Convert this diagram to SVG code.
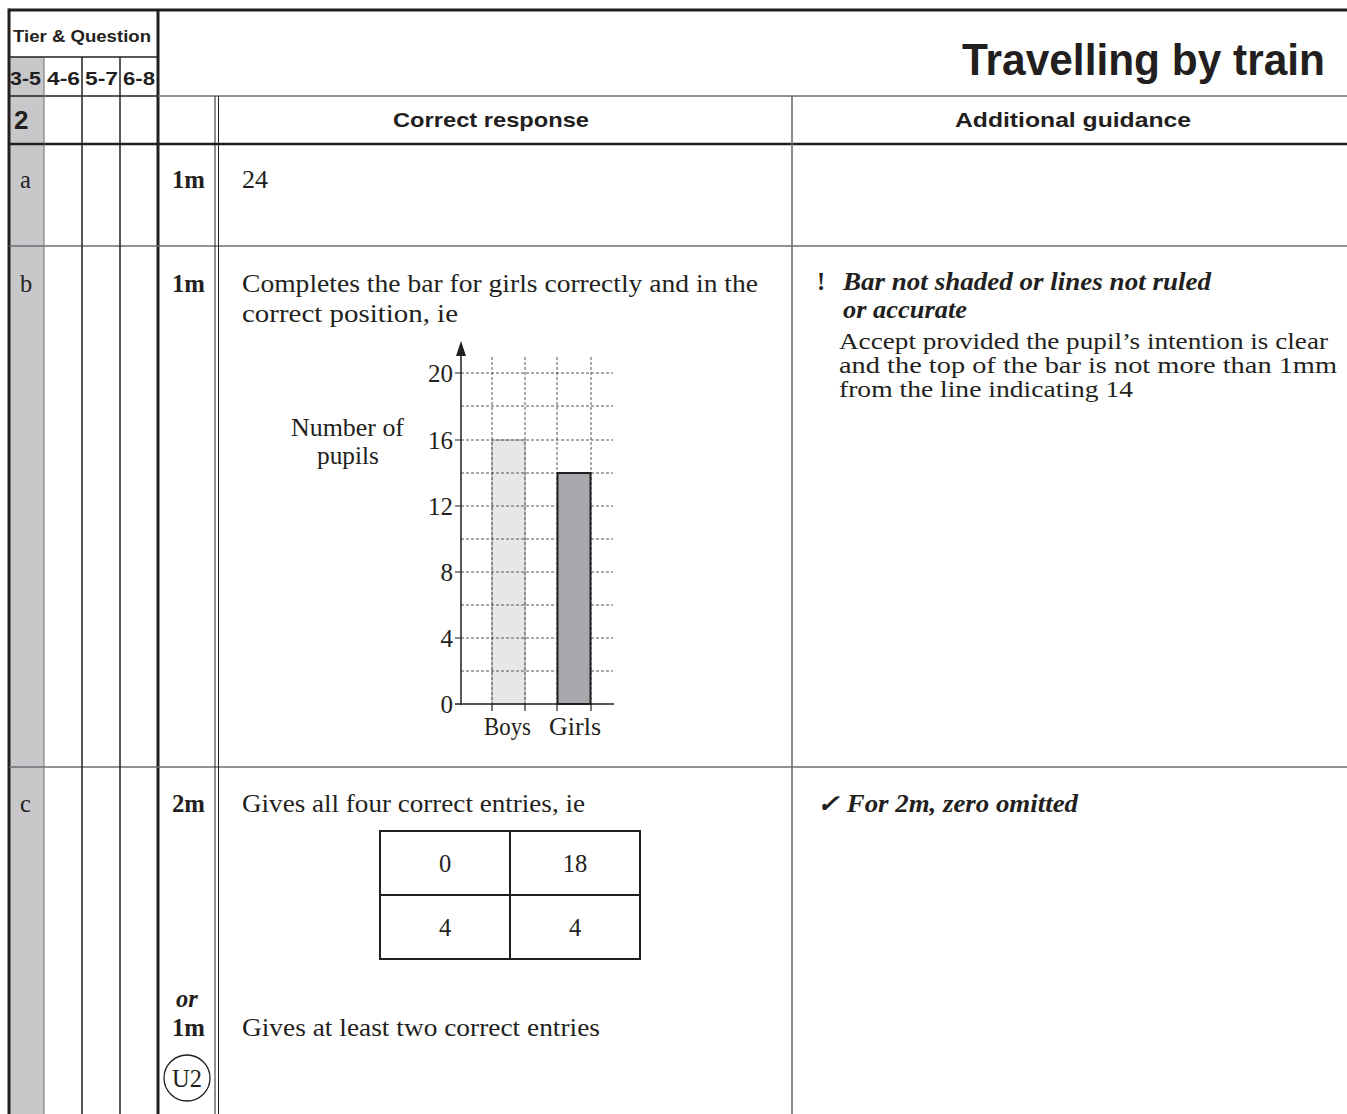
<svg xmlns="http://www.w3.org/2000/svg" width="1347" height="1114" viewBox="0 0 1347 1114">
<style>
.sans{font-family:"Liberation Sans",Arial,sans-serif;font-weight:bold;fill:#231f20}
.serif{font-family:"Liberation Serif","Times New Roman",serif;fill:#231f20;font-size:24.5px}
.sm{font-size:22.5px}
.b{font-weight:bold}
.i{font-style:italic}
.thick{stroke:#231f20;stroke-width:3;fill:none}
.dark{stroke:#231f20;stroke-width:1.5;fill:none}
.gray{stroke:#6d6e70;stroke-width:1.6;fill:none}
.grid{stroke:#555;stroke-width:1;stroke-dasharray:3 2;fill:none}
</style>
<rect width="1347" height="1114" fill="#fff"/>
<g id="frame">
<rect x="9" y="57" width="35" height="1057" fill="#c8c8ca"/>
<line class="thick" x1="9" y1="10" x2="1347" y2="10"/>
<line class="thick" x1="9" y1="8.5" x2="9" y2="1114"/>
<line class="thick" x1="158" y1="10" x2="158" y2="1114"/>
<line class="dark" x1="9" y1="57" x2="158" y2="57"/>
<line class="dark" x1="9" y1="96" x2="158" y2="96"/>
<line class="gray" x1="158" y1="96" x2="1347" y2="96"/>
<line class="thick" x1="9" y1="144" x2="1347" y2="144" style="stroke-width:2.5"/>
<line class="gray" x1="9" y1="246" x2="1347" y2="246"/>
<line class="gray" x1="9" y1="767" x2="1347" y2="767"/>
<line class="gray" x1="44" y1="57" x2="44" y2="1114" style="stroke-width:1"/>
<line class="dark" x1="82" y1="57" x2="82" y2="1114"/>
<line class="dark" x1="120" y1="57" x2="120" y2="1114"/>
<line class="dark" x1="215" y1="96" x2="215" y2="1114" style="stroke-width:1"/>
<line class="dark" x1="218.5" y1="96" x2="218.5" y2="1114" style="stroke-width:1"/>
<line class="gray" x1="792" y1="96" x2="792" y2="1114"/>
</g>
<g id="header">
<text class="sans" x="13" y="42" font-size="17" textLength="138" lengthAdjust="spacingAndGlyphs">Tier &amp; Question</text>
<text class="sans" x="10" y="85" font-size="18" textLength="31" lengthAdjust="spacingAndGlyphs">3-5</text>
<text class="sans" x="47" y="85" font-size="18" textLength="33" lengthAdjust="spacingAndGlyphs">4-6</text>
<text class="sans" x="85" y="85" font-size="18" textLength="33" lengthAdjust="spacingAndGlyphs">5-7</text>
<text class="sans" x="123" y="85" font-size="18" textLength="32" lengthAdjust="spacingAndGlyphs">6-8</text>
<text class="sans" x="962" y="75" font-size="45" textLength="363" lengthAdjust="spacingAndGlyphs">Travelling by train</text>
<text class="sans" x="14" y="129" font-size="26">2</text>
<text class="sans" x="393" y="127" font-size="21" textLength="196" lengthAdjust="spacingAndGlyphs">Correct response</text>
<text class="sans" x="955" y="127" font-size="21" textLength="236" lengthAdjust="spacingAndGlyphs">Additional guidance</text>
</g>
<g id="row-a">
<text class="serif" x="20" y="188">a</text>
<text class="serif b" x="172" y="188" textLength="33" lengthAdjust="spacingAndGlyphs">1m</text>
<text class="serif" x="242" y="188" textLength="26" lengthAdjust="spacingAndGlyphs">24</text>
</g>
<g id="row-b">
<text class="serif" x="20" y="292">b</text>
<text class="serif b" x="172" y="292" textLength="33" lengthAdjust="spacingAndGlyphs">1m</text>
<text class="serif" x="242" y="292" textLength="516" lengthAdjust="spacingAndGlyphs">Completes the bar for girls correctly and in the</text>
<text class="serif" x="242" y="322" textLength="216" lengthAdjust="spacingAndGlyphs">correct position, ie</text>
<text class="serif b" x="817" y="290">!</text>
<text class="serif b i" x="843" y="290" textLength="368" lengthAdjust="spacingAndGlyphs">Bar not shaded or lines not ruled</text>
<text class="serif b i" x="843" y="318" textLength="124" lengthAdjust="spacingAndGlyphs">or accurate</text>
<text class="serif sm" x="839" y="349" textLength="489" lengthAdjust="spacingAndGlyphs">Accept provided the pupil’s intention is clear</text>
<text class="serif sm" x="839" y="373" textLength="498" lengthAdjust="spacingAndGlyphs">and the top of the bar is not more than 1mm</text>
<text class="serif sm" x="839" y="397" textLength="294" lengthAdjust="spacingAndGlyphs">from the line indicating 14</text>
</g>
<g id="chart">
<rect x="492" y="440" width="33" height="264" fill="#e6e7e8" stroke="#9a9a9a" stroke-width="1"/>
<g class="grid">
<path d="M461 373H613M461 406H613M461 440H613M461 473H613M461 506H613M461 539H613M461 572H613M461 605H613M461 638H613M461 671H613"/>
<path d="M492 357V704M525 357V704M557 357V704M591 357V704"/>
</g>
<rect x="557.5" y="473" width="33" height="231" fill="#a7a9ac" stroke="#231f20" stroke-width="2"/>
<line class="dark" x1="461" y1="352" x2="461" y2="705"/>
<polygon points="461,341 456,356 466,356" fill="#231f20"/>
<line class="dark" x1="455" y1="704" x2="614" y2="704"/>
<path class="dark" d="M455 373H461M455 440H461M455 506H461M455 572H461M455 638H461M492 704V711M525 704V711M557 704V711M591 704V711" style="stroke-width:1.2"/>
<g class="serif" style="font-size:25px" text-anchor="end">
<text x="453" y="382">20</text>
<text x="453" y="449">16</text>
<text x="453" y="515">12</text>
<text x="453" y="581">8</text>
<text x="453" y="647">4</text>
<text x="453" y="713">0</text>
</g>
<text class="serif" x="291" y="436" textLength="113" lengthAdjust="spacingAndGlyphs">Number of</text>
<text class="serif" x="317" y="464" textLength="62" lengthAdjust="spacingAndGlyphs">pupils</text>
<text class="serif" x="484" y="735" textLength="47" lengthAdjust="spacingAndGlyphs">Boys</text>
<text class="serif" x="549" y="735" textLength="52" lengthAdjust="spacingAndGlyphs">Girls</text>
</g>
<g id="row-c">
<text class="serif" x="20" y="812">c</text>
<text class="serif b" x="172" y="812" textLength="33" lengthAdjust="spacingAndGlyphs">2m</text>
<text class="serif" x="242" y="812" textLength="343" lengthAdjust="spacingAndGlyphs">Gives all four correct entries, ie</text>
<text class="serif b i" x="817" y="812" textLength="261" lengthAdjust="spacingAndGlyphs">✓ For 2m, zero omitted</text>
<rect x="380" y="831" width="260" height="128" fill="none" stroke="#231f20" stroke-width="2"/>
<path d="M510 831V959M380 895H640" stroke="#231f20" stroke-width="2"/>
<g class="serif" text-anchor="middle">
<text x="445" y="872">0</text>
<text x="575" y="872">18</text>
<text x="445" y="936">4</text>
<text x="575" y="936">4</text>
</g>
<text class="serif b i" x="187" y="1007" text-anchor="middle">or</text>
<text class="serif b" x="172" y="1036" textLength="33" lengthAdjust="spacingAndGlyphs">1m</text>
<text class="serif" x="242" y="1036" textLength="358" lengthAdjust="spacingAndGlyphs">Gives at least two correct entries</text>
<circle cx="187" cy="1078" r="23" fill="none" stroke="#231f20" stroke-width="1.3"/>
<text class="serif" x="187" y="1087" text-anchor="middle">U2</text>
</g>
</svg>
